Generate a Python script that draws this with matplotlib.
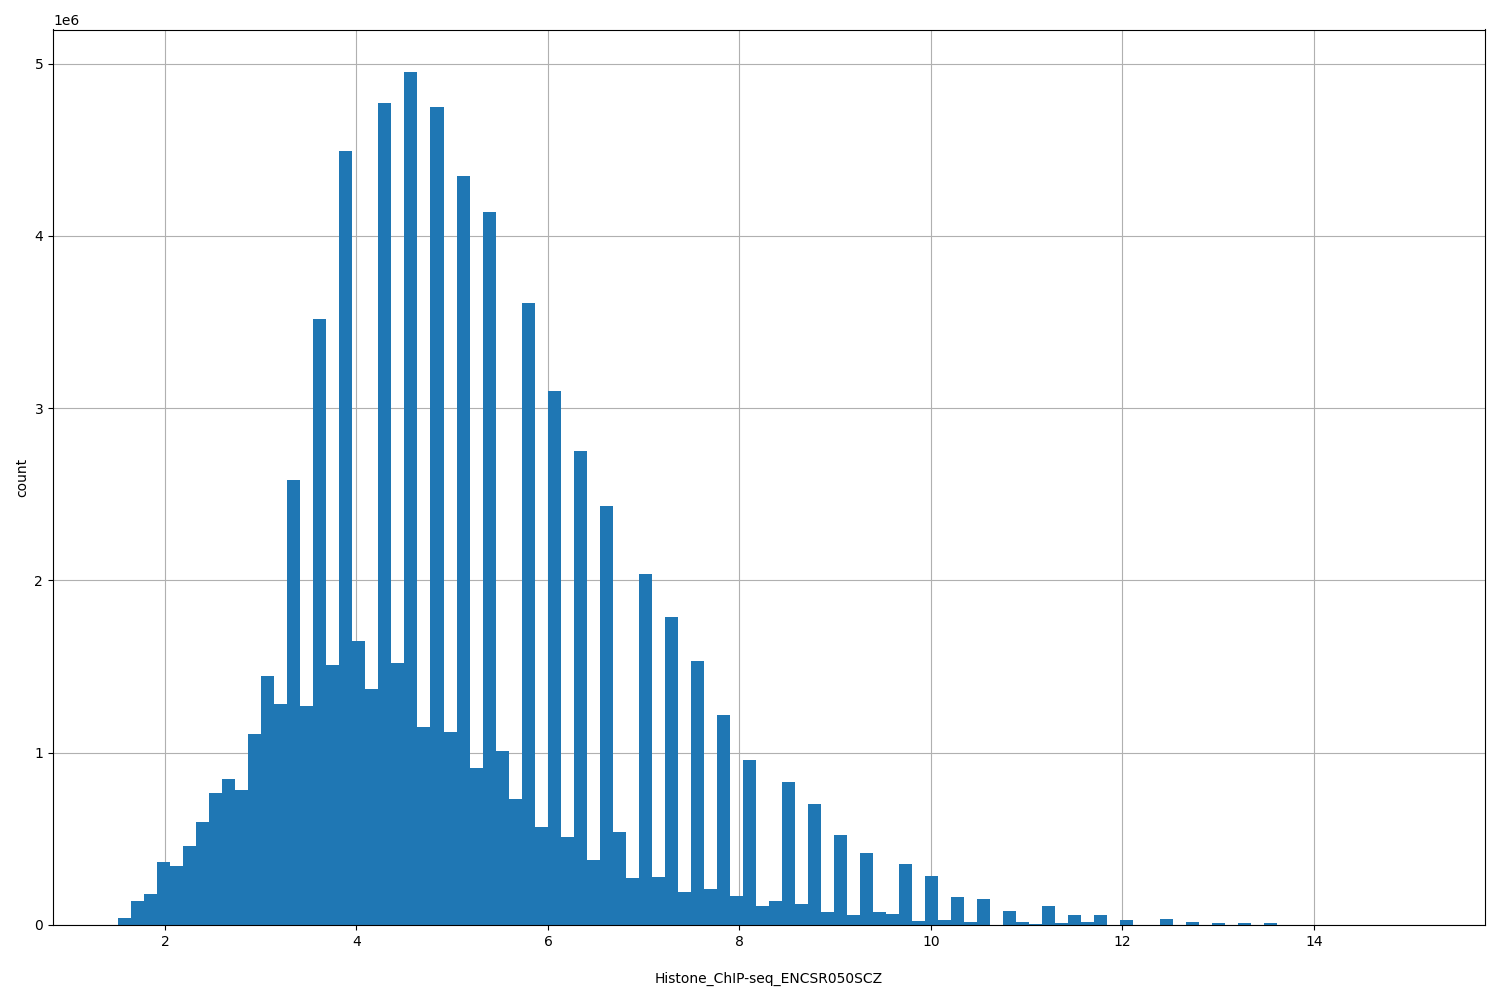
import numpy as np
import matplotlib
matplotlib.use('Agg')
from matplotlib import pyplot as plt

# histogram range and bin count (100 equal bins)
x_min = 1.510
x_max = 15.106
n_bins = 100

# counts per bin, in millions
counts_m = [
    0.041, 0.14, 0.18, 0.366, 0.343, 0.459, 0.599, 0.768, 0.849, 0.785,
    1.11, 1.448, 1.285, 2.58, 1.27, 3.52, 1.51, 4.49, 1.65, 1.37,
    4.77, 1.52, 4.95, 1.15, 4.75, 1.12, 4.35, 0.91, 4.14, 1.01,
    0.73, 3.61, 0.57, 3.10, 0.51, 2.75, 0.38, 2.43, 0.54, 0.27,
    2.04, 0.28, 1.79, 0.19, 1.53, 0.21, 1.22, 0.17, 0.96, 0.11,
    0.14, 0.83, 0.12, 0.70, 0.076, 0.52, 0.058, 0.42, 0.076, 0.064,
    0.355, 0.023, 0.285, 0.029, 0.163, 0.017, 0.151, 0.0, 0.081, 0.017,
    0.006, 0.11, 0.012, 0.06, 0.02, 0.06, 0.0, 0.03, 0.0, 0.0,
    0.035, 0.0, 0.015, 0.0, 0.01, 0.0, 0.01, 0.0, 0.01, 0.0,
    0.0, 0.0, 0.0, 0.0, 0.0, 0.0, 0.0, 0.0, 0.0, 0.0005,
]

edges = np.linspace(x_min, x_max, n_bins + 1)
centers = (edges[:-1] + edges[1:]) / 2
counts = np.array(counts_m) * 1e6

fig = plt.figure(figsize=(15, 10), dpi=100)
ax = fig.add_subplot(111)
ax.hist(centers, bins=edges, weights=counts, color='#1f77b4')
ax.grid(True)
ax.set_axisbelow(True)
ax.set_xlabel('Histone_ChIP-seq_ENCSR050SCZ', labelpad=17)
ax.set_ylabel('count')
fig.subplots_adjust(left=0.0353, right=0.99, top=0.9705, bottom=0.075)
plt.savefig('out.png', dpi=100)
